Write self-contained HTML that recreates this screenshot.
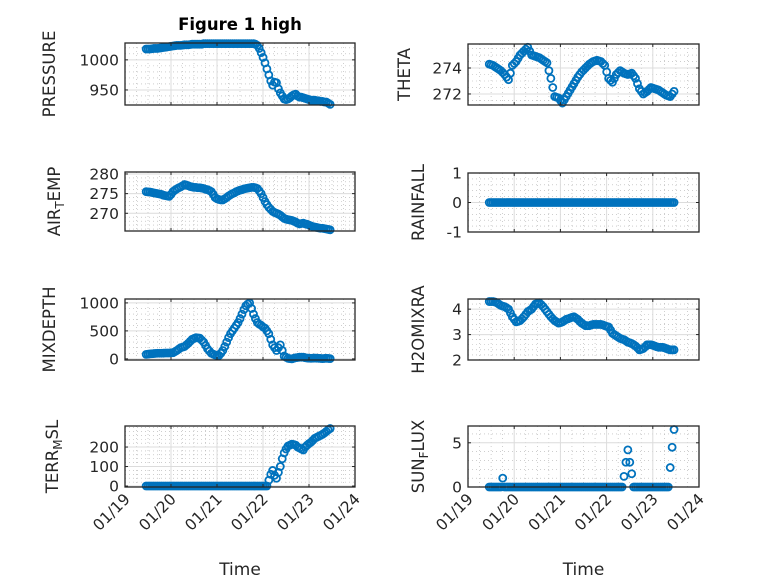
<!DOCTYPE html>
<html><head><meta charset="utf-8"><style>
html,body{margin:0;padding:0;background:#fff}
svg{display:block;font-family:"DejaVu Sans","Liberation Sans",sans-serif}
</style></head><body>
<svg id="fig" width="778" height="583" viewBox="0 0 778 583" xmlns="http://www.w3.org/2000/svg"></svg>
<script>
// x ticks (days since 01/19)
const xTickLabels = ["01/19","01/20","01/21","01/22","01/23","01/24"];
const tStart = 0.46, tStep = 1/24;
const pressure = [1018,1018,1018,1018.5,1019,1019,1019,1019.5,1020,1020.5,
1021,1021.5,1022,1022.5,1023,1023.5,1024,1024,1024,1024.5,
1025,1025,1025,1025.5,1026,1026,1026,1026,1026,1026,
1027,1027,1027,1027,1027,1027,1027,1027,1027,1027,
1027,1027,1027,1027,1027,1027,1027,1027,1027,1027,
1027,1027,1027,1027,1027,1027,1027,
1026,1024,1019,1012,1004,995,985,975,965,958,963,962,952,945,940,935,934,935,937,940,942,943,940,938,938,937,936,935,934,933,933,933,932,932,931,931,930,930,928,926];
const airTemp = [275.5,275.45,275.4,275.3,275.2,275.1,275,274.9,274.8,274.6,
274.5,274.4,274.3,274.8,275.5,275.9,276.2,276.5,276.7,277,
277.3,277.2,277,276.8,276.7,276.6,276.6,276.5,276.5,276.4,
276.3,276.1,276,275.8,275.5,274.8,274,273.7,273.5,273.4,
273.4,273.7,274,274.4,274.7,275,275.2,275.5,275.7,275.9,
276,276.2,276.3,276.4,276.5,276.6,276.6,276.5,276.3,275.7,
275,274,273,272.2,271.5,271,270.5,270.2,270,269.8,
269.5,269.1,268.7,268.5,268.4,268.3,268.2,268,267.8,267.5,
267.3,267.4,267.5,267.3,267.2,267,266.8,266.6,266.5,266.4,
266.3,266.2,266.2,266.1,266,265.9,265.8];
const mixDepth = [80,85,90,92,95,98,100,100,100,102,
105,105,105,108,110,130,150,175,200,210,
220,250,280,315,350,365,380,375,370,335,
300,240,180,140,100,85,70,65,60,100,
150,220,300,380,450,500,550,600,650,720,
800,880,950,980,1000,900,800,720,650,620,
600,570,550,500,450,350,250,200,150,200,
250,150,50,30,10,5,0,10,20,25,
30,30,30,20,15,12,10,12,15,12,
10,8,5,8,10,8,5];
const terrMsl = [0,0,0,0,0,0,0,0,0,0,
0,0,0,0,0,0,0,0,0,0,
0,0,0,0,0,0,0,0,0,0,
0,0,0,0,0,0,0,0,0,0,
0,0,0,0,0,0,0,0,0,0,
0,0,0,0,0,0,0,0,0,0,
0,0,0,0,
30,60,80,55,40,70,100,140,170,190,205,210,215,213,210,200,195,190,185,200,210,218,225,235,245,250,255,260,265,272,280,288,295];
const theta = [274.3,274.25,274.2,274.1,274,273.9,273.8,273.65,273.5,273.3,
273.1,273.6,274.2,274.35,274.5,274.75,275,275.15,275.3,275.45,
275.6,275.3,275,274.95,274.9,274.85,274.8,274.7,274.6,274.5,
274.4,273.8,273.2,272.5,271.8,271.75,271.7,271.5,271.3,271.55,
271.8,272.05,272.3,272.55,272.8,273.05,273.3,273.5,273.7,273.85,
274,274.15,274.3,274.4,274.5,274.55,274.6,274.55,274.5,274.35,
274.2,273.7,273.2,273.05,272.9,273.2,273.5,273.65,273.8,273.7,
273.6,273.55,273.5,273.55,273.6,273.4,273.2,272.8,272.4,272.2,
272,272.1,272.2,272.35,272.5,272.45,272.4,272.35,272.3,272.2,
272.1,272,271.9,271.85,271.8,272,272.2];
const rainfall = [0,0,0,0,0,0,0,0,0,0,
0,0,0,0,0,0,0,0,0,0,
0,0,0,0,0,0,0,0,0,0,
0,0,0,0,0,0,0,0,0,0,
0,0,0,0,0,0,0,0,0,0,
0,0,0,0,0,0,0,0,0,0,
0,0,0,0,0,0,0,0,0,0,
0,0,0,0,0,0,0,0,0,0,
0,0,0,0,0,0,0,0,0,0,
0,0,0,0,0,0,0];
const h2oMix = [4.3,4.3,4.3,4.28,4.25,4.2,4.15,4.12,4.1,4.05,
4.0,3.85,3.7,3.6,3.5,3.52,3.55,3.62,3.7,3.8,
3.9,3.95,4.0,4.1,4.2,4.22,4.25,4.18,4.1,4.0,
3.9,3.8,3.7,3.62,3.55,3.5,3.45,3.47,3.5,3.55,
3.6,3.62,3.65,3.68,3.7,3.65,3.6,3.52,3.45,3.4,
3.35,3.35,3.35,3.38,3.4,3.4,3.4,3.4,3.4,3.38,
3.35,3.32,3.3,3.18,3.05,3.0,2.95,2.9,2.85,2.82,
2.8,2.75,2.7,2.68,2.65,2.6,2.55,2.48,2.4,2.42,
2.45,2.52,2.6,2.6,2.6,2.58,2.55,2.52,2.5,2.5,
2.5,2.48,2.45,2.42,2.4,2.4,2.4];
const sunFlux = [0,0,0,0,0,0,0,1.0,0,0,
0,0,0,0,0,0,0,0,0,0,
0,0,0,0,0,0,0,0,0,0,
0,0,0,0,0,0,0,0,0,0,
0,0,0,0,0,0,0,0,0,0,
0,0,0,0,0,0,0,0,0,0,
0,0,0,0,0,0,0,0,0,0,
1.2,2.8,4.2,2.8,1.5,0,0,0,0,0,
0,0,0,0,0,0,0,0,0,0,
0,0,0,0,2.2,4.5,6.5];
const pressureTicks=[950,1000], airTicks=[270,275,280], mixTicks=[0,500,1000], terrTicks=[0,100,200];
const thetaTicks=[272,274], rainTicks=[-1,0,1], h2oTicks=[2,3,4], sunTicks=[0,5];

const NS="http://www.w3.org/2000/svg";
const svg=document.getElementById('fig');
function mk(tag,attrs,parent){const e=document.createElementNS(NS,tag);for(const k in attrs)e.setAttribute(k,attrs[k]);(parent||svg).appendChild(e);return e;}

const panels=[
 {name:'pressure',data:pressure,ticks:pressureTicks,minor:10,ylim:[925,1028],x0:125,x1:355,y0:43,y1:105,label:['PRESSURE'],lx:55},
 {name:'air-temp',data:airTemp,ticks:airTicks,minor:1,ylim:[265.5,280.5],x0:125,x1:355,y0:172,y1:231,label:['AIR','T','EMP'],lx:60},
 {name:'mixdepth',data:mixDepth,ticks:mixTicks,minor:100,ylim:[-20,1070],x0:125,x1:355,y0:299,y1:360,label:['MIXDEPTH'],lx:55},
 {name:'terr-msl',data:terrMsl,ticks:terrTicks,minor:20,ylim:[-5,308],x0:125,x1:355,y0:426,y1:487,label:['TERR','M','SL'],lx:58},
 {name:'theta',data:theta,ticks:thetaTicks,minor:0.5,ylim:[271.15,275.85],x0:468,x1:699,y0:44,y1:105,label:['THETA'],lx:410},
 {name:'rainfall',data:rainfall,ticks:rainTicks,minor:0.2,ylim:[-1,1],x0:468,x1:699,y0:173,y1:232,label:['RAINFALL'],lx:424},
 {name:'h2omixra',data:h2oMix,ticks:h2oTicks,minor:0.2,ylim:[2,4.4],x0:468,x1:699,y0:299,y1:360,label:['H2OMIXRA'],lx:424},
 {name:'sun-flux',data:sunFlux,ticks:sunTicks,minor:1,ylim:[0,6.9],x0:468,x1:699,y0:426,y1:487,label:['SUN','F','LUX'],lx:424}
];

panels.forEach((p,pi)=>{
 const g=mk('g',{});
 
 
 const xs=t=>p.x0+(p.x1-p.x0)*t/5;
 const ys=v=>p.y1-(p.y1-p.y0)*(v-p.ylim[0])/(p.ylim[1]-p.ylim[0]);
 mk('rect',{x:p.x0,y:p.y0,width:p.x1-p.x0,height:p.y1-p.y0,fill:'#fff'},g);
 for(let k=1;k<20;k++){ if(k%4===0)continue; const x=xs(k/4);
  mk('line',{x1:x,x2:x,y1:p.y0,y2:p.y1,stroke:'#b0b0b0','stroke-width':0.6,'stroke-dasharray':'1,3'},g);}
 const lo=Math.ceil(p.ylim[0]/p.minor), hi=Math.floor(p.ylim[1]/p.minor);
 for(let k=lo;k<=hi;k++){const v=k*p.minor; if(p.ticks.some(t=>Math.abs(t-v)<1e-9))continue; const y=ys(v);
  mk('line',{x1:p.x0,x2:p.x1,y1:y,y2:y,stroke:'#b0b0b0','stroke-width':0.6,'stroke-dasharray':'1,3'},g);}
 for(let k=1;k<5;k++){const x=xs(k);mk('line',{x1:x,x2:x,y1:p.y0,y2:p.y1,stroke:'#dcdcdc','stroke-width':1},g);}
 p.ticks.forEach(v=>{const y=ys(v);mk('line',{x1:p.x0,x2:p.x1,y1:y,y2:y,stroke:'#dcdcdc','stroke-width':1},g);});
 p.data.forEach((v,i)=>{
  const c=mk('circle',{cx:xs(tStart+i*tStep),cy:ys(v),r:3.5,fill:'none',stroke:'#0072BD','stroke-width':1.8},g);
  
  
 });
 mk('rect',{x:p.x0,y:p.y0,width:p.x1-p.x0,height:p.y1-p.y0,fill:'none',stroke:'#262626','stroke-width':1.3},g);
 for(let k=0;k<=5;k++){const x=xs(k);
  mk('line',{x1:x,x2:x,y1:p.y1,y2:p.y1-3,stroke:'#262626'},g);mk('line',{x1:x,x2:x,y1:p.y0,y2:p.y0+3,stroke:'#262626'},g);}
 p.ticks.forEach(v=>{const y=ys(v);
  mk('line',{x1:p.x0,x2:p.x0+3,y1:y,y2:y,stroke:'#262626'},g);mk('line',{x1:p.x1,x2:p.x1-3,y1:y,y2:y,stroke:'#262626'},g);
  const t=mk('text',{x:p.x0-6,y:y+5.5,'text-anchor':'end','font-size':15.5,fill:'#262626'},g);t.textContent=String(v);
  });
 const cy=(p.y0+p.y1)/2;
 const yl=mk('text',{x:0,y:0,transform:`translate(${p.lx},${cy}) rotate(-90)`,'text-anchor':'middle','font-size':16.5,fill:'#262626'},g);
 
 
 if(p.label.length===1){yl.textContent=p.label[0];}
 else{const a=mk('tspan',{},yl);a.textContent=p.label[0];
  const b=mk('tspan',{'baseline-shift':'-30%','font-size':12},yl);b.textContent=p.label[1];
  const c=mk('tspan',{'baseline-shift':'0%'},yl);c.textContent=p.label[2];}
 if(pi===3||pi===7){
  xTickLabels.forEach((s,k)=>{const x=xs(k);
   const t=mk('text',{x:0,y:0,transform:`translate(${x+6},${p.y1+13}) rotate(-45)`,'text-anchor':'end','font-size':15.5,fill:'#262626'},g);
   t.textContent=s;});
  const xl=mk('text',{x:(p.x0+p.x1)/2,y:575,'text-anchor':'middle','font-size':17,fill:'#262626'},g);
  xl.textContent='Time';
 }
});
const title=mk('text',{x:240,y:30,'text-anchor':'middle','font-size':16.5,'font-weight':'bold',fill:'#000'});
title.textContent='Figure 1 high';


</script>
</body></html>
